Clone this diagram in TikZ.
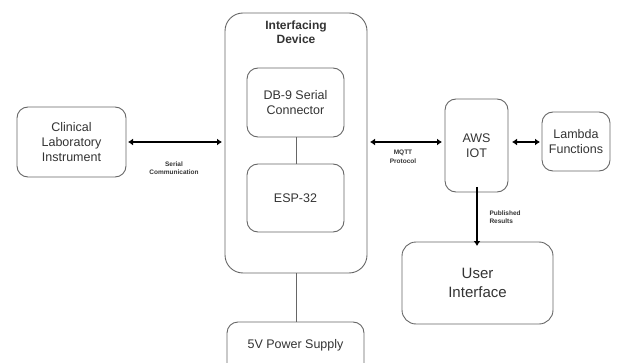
\documentclass[tikz,border=0pt]{standalone}
\usepackage{fontspec}
\setmainfont{Liberation Sans}
\usetikzlibrary{arrows.meta}
\definecolor{boxline}{HTML}{666666}
\definecolor{txt}{HTML}{333333}
\begin{document}
\begin{tikzpicture}[x=1pt,y=-1pt,
  box/.style={draw=boxline,line width=0.9pt,rounded corners=11pt},
  boxtext/.style={text=txt,font=\fontsize{12.5}{15}\selectfont,align=center},
  lbl/.style={text=txt,font=\bfseries\fontsize{6.5}{8.5}\selectfont,align=center},
  thick arrow/.style={line width=2.6pt,{Latex[length=5pt,width=7pt]}-{Latex[length=5pt,width=7pt]}},
  one arrow/.style={line width=2.6pt,-{Latex[length=5pt,width=7pt]}},
  link/.style={draw=boxline,line width=0.9pt}]
\useasboundingbox (0,0) rectangle (617,363);
\clip (0,0) rectangle (617,363);
% boxes
\draw[box] (17,107) rectangle (126,177);
\node[boxtext] (clin) at (71.5,142) {Clinical\\Laboratory\\Instrument};
\coordinate (clinE) at (126,142);
\draw[box,rounded corners=18pt] (225,13) rectangle (367,273);
\node[text=txt,font=\bfseries\fontsize{12}{14.5}\selectfont,align=center] (devt) at (296,32) {Interfacing\\Device};
\coordinate (devW) at (225,142);
\coordinate (devE) at (367,142);
\coordinate (devS) at (296,273);
\draw[box] (247,68) rectangle (344,137);
\node[boxtext] (db9) at (295.5,102.5) {DB-9 Serial\\Connector};
\coordinate (db9S) at (296,137);
\draw[box] (247,164) rectangle (344,232);
\node[boxtext] (esp) at (295.5,198) {ESP-32};
\coordinate (espN) at (296,164);
\draw[box] (227,322) rectangle (364,380);
\node[boxtext] (psu) at (295.5,345) {5V Power Supply};
\coordinate (psuN) at (296,322);
\draw[box] (445,99) rectangle (508,192);
\node[boxtext] (aws) at (476.5,146) {AWS\\IOT};
\coordinate (awsW) at (445,142);
\coordinate (awsE) at (508,142);
\coordinate (awsS) at (477,192);
\draw[box] (542,112) rectangle (610,171);
\node[boxtext] (lam) at (576,141.5) {Lambda\\Functions};
\coordinate (lamW) at (542,142);
\draw[box,rounded corners=14pt] (402,242) rectangle (553,324);
\node[boxtext,font=\fontsize{15}{19}\selectfont] (ui) at (477.5,283) {User\\Interface};
\coordinate (uiN) at (477,242);
% connectors
\draw[thick arrow] ([xshift=2pt]clinE) -- ([xshift=-3pt]devW);
\node[lbl] (ser) at (174,168) {Serial\\Communication};
\draw[link] (db9S) -- (espN);
\draw[link] (devS) -- (psuN);
\draw[thick arrow] ([xshift=3pt]devE) -- ([xshift=-3pt]awsW);
\node[lbl] (mqtt) at (403,157) {MQTT\\Protocol};
\draw[thick arrow] ([xshift=4pt]awsE) -- ([xshift=-2pt]lamW);
\draw[one arrow] ([yshift=5pt]awsS) -- ([yshift=-4pt]uiN);
\node[lbl,align=left,anchor=west] (pub) at (486,217) {Published\\Results};
\end{tikzpicture}
\end{document}
